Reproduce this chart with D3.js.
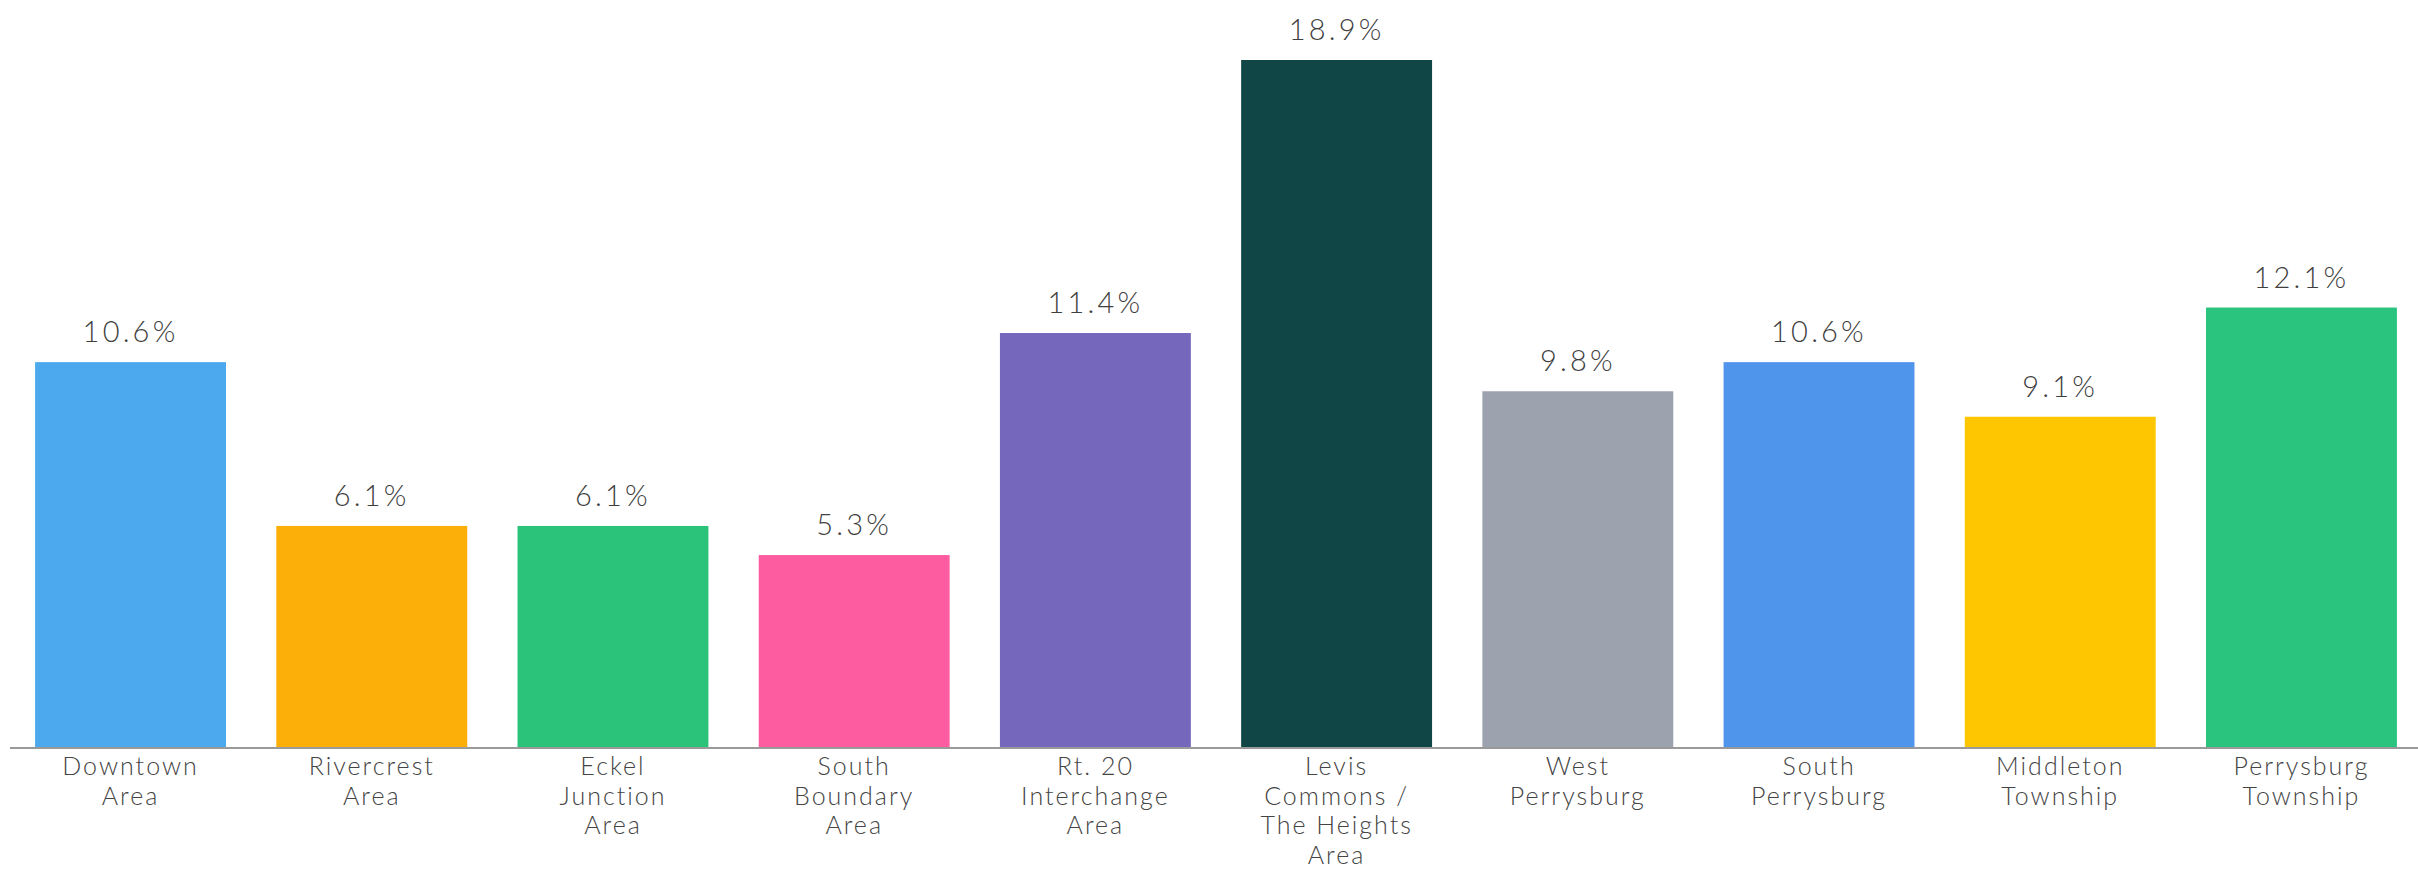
<!DOCTYPE html>
<html>
<head>
<meta charset="utf-8">
<script src="https://cdn.jsdelivr.net/npm/d3@7"></script>
<style>
  html, body { margin: 0; padding: 0; background: #fff; }
  svg { display: block; }
  .value { font-family: Lato, "Open Sans", sans-serif; font-weight: 300; fill: #3f3f3f; }
  .cat { font-family: Lato, "Open Sans", sans-serif; font-weight: 300; fill: #444; }
</style>
</head>
<body>
<svg id="chart" width="2418" height="879"></svg>
<script>
// Share of residents by area (%)
const categories = [
  "Downtown\nArea",
  "Rivercrest\nArea",
  "Eckel\nJunction\nArea",
  "South\nBoundary\nArea",
  "Rt. 20\nInterchange\nArea",
  "Levis\nCommons /\nThe Heights\nArea",
  "West\nPerrysburg",
  "South\nPerrysburg",
  "Middleton\nTownship",
  "Perrysburg\nTownship"
];
const values = [10.6, 6.1, 6.1, 5.3, 11.4, 18.9, 9.8, 10.6, 9.1, 12.1];
const colors = [
  "#4DA9EE", "#FBAF08", "#2BC37A", "#FE5CA0", "#7567BB",
  "#114646", "#9CA3AF", "#5095EC", "#FEC600", "#2AC47F"
];

const chartWidth = 2418, chartHeight = 879;
const baselineY = 748, plotTop = 60;

const svg = d3.select("#chart");

const x = d3.scaleBand()
  .domain(categories)
  .range([10, 2422])
  .paddingInner(0.2085)
  .paddingOuter(0.104);

const y = d3.scaleLinear()
  .domain([0, d3.max(values)])
  .range([baselineY, plotTop]);

const data = categories.map((c, i) => ({ c, v: values[i], color: colors[i] }));

// bars
svg.append("g")
  .selectAll("rect")
  .data(data)
  .join("rect")
  .attr("x", d => x(d.c))
  .attr("y", d => y(d.v))
  .attr("width", x.bandwidth())
  .attr("height", d => y(0) - y(d.v))
  .attr("fill", d => d.color);

// value labels
svg.append("g")
  .selectAll("text")
  .data(data)
  .join("text")
  .attr("class", "value")
  .attr("x", d => x(d.c) + x.bandwidth() / 2)
  .attr("y", d => y(d.v) - 20)
  .attr("text-anchor", "middle")
  .style("font-size", "29px")
  .style("letter-spacing", "3.2px")
  .text(d => d.v.toFixed(1) + "%");

// baseline axis with wrapped category labels
const axis = d3.axisBottom(x).tickSize(0).tickPadding(0);
const gx = svg.append("g")
  .attr("transform", `translate(0,${baselineY})`)
  .call(axis);
gx.select(".domain")
  .attr("d", `M10,0H${chartWidth}`)
  .attr("stroke", "#9a9a9a")
  .attr("stroke-width", 2);
gx.selectAll(".tick text").each(function(d) {
  const t = d3.select(this);
  t.text(null)
    .attr("class", "cat")
    .attr("fill", "#444")
    .attr("dy", null)
    .attr("y", 0)
    .style("font-size", "25px")
    .style("letter-spacing", "2px");
  d.split("\n").forEach((line, i) => {
    t.append("tspan")
      .attr("x", 0)
      .attr("y", 27 + i * 29.5)
      .text(line);
  });
});
</script>
</body>
</html>
